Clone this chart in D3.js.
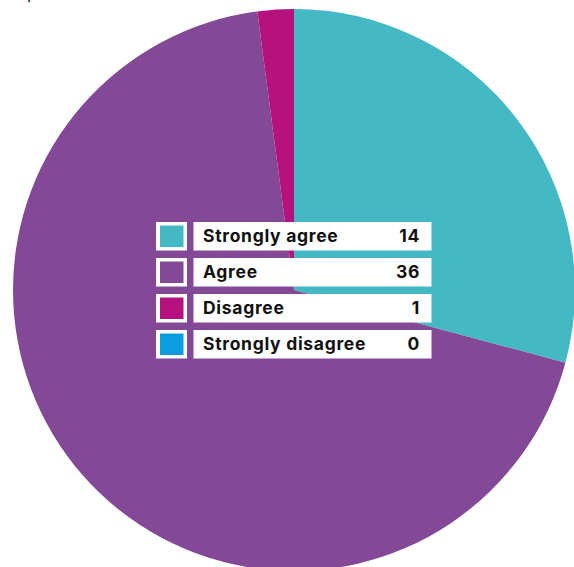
<!DOCTYPE html>
<html>
<head>
<meta charset="utf-8">
<script src="https://cdn.jsdelivr.net/npm/d3@7"></script>
<style>
  html, body { margin: 0; padding: 0; background: #ffffff; overflow: hidden; }
  svg { display: block; }
</style>
</head>
<body>
<svg id="chart" width="574" height="567"></svg>
<script>
// ---- data ----
const categories = ["Strongly agree", "Agree", "Disagree", "Strongly disagree"];
const counts = [14, 36, 1, 0];              // numbers printed in the legend
const sliceShares = [14, 33, 1, 0];         // slice sizes as drawn in the picture
const colors = ["#45B9C3", "#834996", "#B5117F", "#0B9DDF"];

const W = 574, H = 567;
const cx = 294, cy = 290, R = 281;

const svg = d3.select("#chart");

// clipped title descender at the very top-left
svg.append("text")
  .attr("x", 27).attr("y", -1)
  .attr("font-family", "Inter, sans-serif")
  .attr("font-size", 17)
  .attr("fill", "#222")
  .text("p");

const pie = d3.pie().sort(null).value(d => d).startAngle(0).endAngle(2 * Math.PI);
const arc = d3.arc().innerRadius(0).outerRadius(R);

const g = svg.append("g").attr("transform", `translate(${cx},${cy})`);
g.selectAll("path")
  .data(pie(sliceShares))
  .join("path")
  .attr("d", arc)
  .attr("fill", (d, i) => colors[i]);

// ---- legend ----
const rowY = d3.scalePoint().domain(categories).range([222, 222 + 36 * 3]);
const legend = svg.append("g");
const rows = legend.selectAll("g").data(categories).join("g")
  .attr("transform", d => `translate(0,${rowY(d)})`);

const rh = 28.5;
rows.append("rect")
  .attr("x", 156).attr("y", 0).attr("width", 31).attr("height", rh)
  .attr("fill", "#ffffff");
rows.append("rect")
  .attr("x", 160).attr("y", 3.5).attr("width", 23.5).attr("height", rh - 7)
  .attr("fill", (d, i) => colors[i]);
rows.append("rect")
  .attr("x", 193.5).attr("y", 0).attr("width", 238).attr("height", rh)
  .attr("fill", "#ffffff");
rows.append("text")
  .attr("x", 203).attr("y", 20)
  .attr("font-family", "Inter, sans-serif")
  .attr("font-weight", 700)
  .attr("font-size", 17.5)
  .attr("letter-spacing", 0.7)
  .attr("fill", "#111")
  .text(d => d);
rows.append("text")
  .attr("x", 420).attr("y", 20)
  .attr("text-anchor", "end")
  .attr("font-family", "Inter, sans-serif")
  .attr("font-weight", 700)
  .attr("font-size", 17.5)
  .attr("letter-spacing", 0.7)
  .attr("fill", "#111")
  .text((d, i) => counts[i]);
</script>
</body>
</html>
